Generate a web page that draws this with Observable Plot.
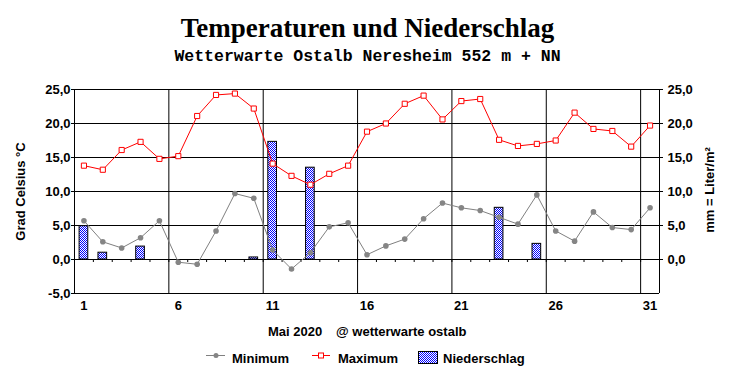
<!DOCTYPE html>
<html><head><meta charset="utf-8">
<script src="https://cdn.jsdelivr.net/npm/d3@7"></script>
<script src="https://cdn.jsdelivr.net/npm/@observablehq/plot@0.6"></script>
<style>
html,body{margin:0;padding:0;background:#fff;}
#wrap{position:relative;width:732px;height:380px;overflow:hidden;background:#fff;}
#wrap svg{position:absolute;left:0;top:0;}
</style></head><body><div id="wrap"></div>
<script>
// ---- data ----
const days = [1,2,3,4,5,6,7,8,9,10,11,12,13,14,15,16,17,18,19,20,21,22,23,24,25,26,27,28,29,30,31];
const tMin = [5.7,2.6,1.7,3.2,5.7,-0.4,-0.7,4.2,9.7,9.0,1.4,-1.4,1.0,4.8,5.4,0.7,2.0,3.0,6.0,8.3,7.6,7.2,6.2,5.2,9.5,4.2,2.7,7.0,4.7,4.4,7.6];
const tMax = [13.8,13.2,16.1,17.3,14.8,15.2,21.1,24.2,24.4,22.2,14.1,12.3,11.0,12.6,13.8,18.8,20.0,22.9,24.1,20.6,23.3,23.6,17.6,16.7,17.0,17.5,21.6,19.2,18.9,16.6,19.7];
const precip = [4.9,1.0,0,1.9,0,0,0,0,0,0.3,17.3,0,13.5,0,0,0,0,0,0,0,0,0,7.6,0,2.3,0,0,0,0,0,0];
const xTickLabels = [1,6,11,16,21,26,31];
const yTicksLeft = [-5,0,5,10,15,20,25];
const yTicksRight = [0,5,10,15,20,25];
const weekBreaks = [0.5,5.5,10.5,15.5,20.5,25.5,30.5,31.5];
const halfDays = days.slice(0,30).map(d => d + 0.5);

const title = "Temperaturen und Niederschlag";
const subtitle = "Wetterwarte Ostalb Neresheim 552 m + NN";
const leftTitle = "Grad Celsius °C";
const rightTitle = "mm = Liter/m²";
const captionA = "Mai 2020";
const captionB = "@ wetterwarte ostalb";
const seriesNames = ["Minimum","Maximum","Niederschlag"];

const rows = days.map((d,i) => ({day: d, min: tMin[i], max: tMax[i], mm: precip[i]}));
const rainRows = rows.filter(r => r.mm > 0);
const fmt = v => d3.format(".1f")(v).replace(".", ",").replace("\u2212", "-");

const FONT = "'Liberation Sans', Arial, sans-serif";

const chart = Plot.plot({
  width: 732, height: 380,
  marginLeft: 74, marginRight: 73, marginTop: 89, marginBottom: 87,
  style: {fontFamily: FONT, fontSize: "13px", fontWeight: "bold", color: "#000", background: "transparent"},
  x: {domain: [0.5, 31.5]},
  y: {domain: [-5, 25]},
  marks: [
    Plot.ruleY(yTicksLeft, {stroke: "#000"}),
    Plot.ruleX(weekBreaks, {stroke: "#000"}),
    Plot.ruleX(halfDays, {x: d => d, y1: 0, y2: 0, insetBottom: -3, stroke: "#000"}),
    Plot.rectY(rainRows, {x1: d => d.day - 0.23, x2: d => d.day + 0.23, y1: 0, y2: "mm", fill: "url(#dots)", stroke: "#000", strokeWidth: 1}),
    Plot.line(rows, {x: "day", y: "min", stroke: "#808080", strokeWidth: 1}),
    Plot.dot(rows, {x: "day", y: "min", r: 2.8, fill: "#858585", stroke: "none"}),
    Plot.line(rows, {x: "day", y: "max", stroke: "#ff0000", strokeWidth: 1}),
    Plot.dot(rows, {x: "day", y: "max", symbol: "square", r: 2.9, fill: "#fff", stroke: "#ff0000", strokeWidth: 1}),
    Plot.axisX(xTickLabels, {anchor: "bottom", tickSize: 0, tickPadding: 7, label: null}),
    Plot.axisY(yTicksLeft, {anchor: "left", tickSize: 3, tickPadding: 1, tickFormat: fmt, label: null}),
    Plot.axisY(yTicksRight, {anchor: "right", tickSize: 3, tickPadding: 5, tickFormat: fmt, label: null})
  ]
});

const wrap = document.getElementById("wrap");
wrap.appendChild(chart);

// pattern for precipitation bars
const defs = d3.select(chart).insert("defs", ":first-child");
const pat = defs.append("pattern").attr("id", "dots").attr("width", 2).attr("height", 2).attr("patternUnits", "userSpaceOnUse");
pat.append("rect").attr("width", 2).attr("height", 2).attr("fill", "#fff");
pat.append("rect").attr("width", 1).attr("height", 1).attr("fill", "#0000ff");
pat.append("rect").attr("x", 1).attr("y", 1).attr("width", 1).attr("height", 1).attr("fill", "#0000ff");

// overlay: titles, axis titles, caption, legend
const ov = d3.select(wrap).append("svg").attr("width", 732).attr("height", 380).style("pointer-events", "none");
ov.append("text").attr("x", 367.5).attr("y", 37).attr("text-anchor", "middle")
  .attr("font-family", "'Liberation Serif', 'Times New Roman', serif").attr("font-weight", "bold").attr("font-size", 27).text(title);
ov.append("text").attr("x", 367.5).attr("y", 61).attr("text-anchor", "middle")
  .attr("font-family", "'Liberation Mono', 'Courier New', monospace").attr("font-weight", "bold").attr("font-size", 16.5).text(subtitle);

const lab = (x, y, t, anchor = "start", rot = 0) => ov.append("text")
  .attr("transform", `translate(${x},${y}) rotate(${rot})`).attr("text-anchor", anchor)
  .attr("font-family", FONT).attr("font-weight", "bold").attr("font-size", 13).text(t);

lab(25, 191.5, leftTitle, "middle", -90);
lab(714, 190, rightTitle, "middle", -90);
lab(268, 336, captionA);
lab(336, 336, captionB);

// legend
ov.append("line").attr("x1", 206).attr("x2", 225).attr("y1", 355.5).attr("y2", 355.5).attr("stroke", "#808080");
ov.append("circle").attr("cx", 216).attr("cy", 355.5).attr("r", 2.5).attr("fill", "#858585");
lab(232, 363, seriesNames[0]);
ov.append("line").attr("x1", 312).attr("x2", 330).attr("y1", 355.5).attr("y2", 355.5).attr("stroke", "#ff0000");
ov.append("rect").attr("x", 318.5).attr("y", 353).attr("width", 5).attr("height", 5).attr("fill", "#fff").attr("stroke", "#ff0000");
lab(338, 363, seriesNames[1]);
ov.append("rect").attr("x", 418.5).attr("y", 351.5).attr("width", 19).attr("height", 12).attr("fill", "url(#dots)").attr("stroke", "#000");
lab(443, 363, seriesNames[2]);
</script>
</body></html>
